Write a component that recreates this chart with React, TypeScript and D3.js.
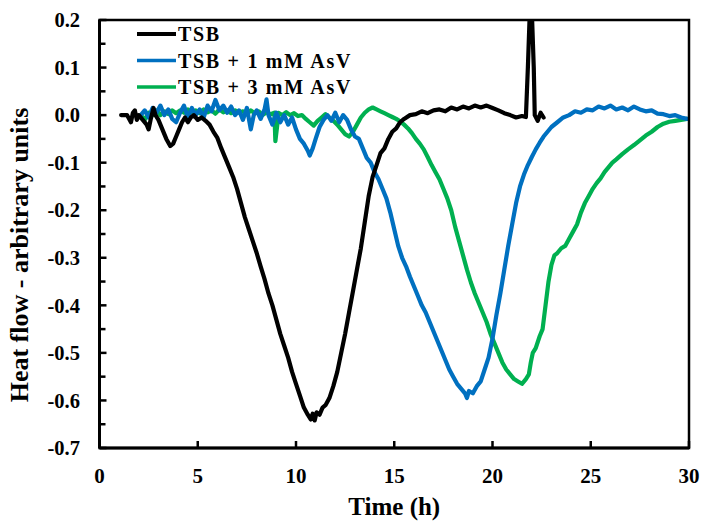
import React from "react";
import * as d3 from "d3";

const xTicks = [0, 5, 10, 15, 20, 25, 30];
const yTicks = [0.2, 0.1, 0.0, -0.1, -0.2, -0.3, -0.4, -0.5, -0.6, -0.7];
const yMinorTicks = [0.15, 0.05, -0.05, -0.15, -0.25, -0.35, -0.45, -0.55, -0.65];

const seriesNames = ["TSB", "TSB + 1 mM AsV", "TSB + 3 mM AsV"];
const seriesColors = ["#000000", "#0070C0", "#00B050"];

const tsb: [number, number][] = [
  [1.1, 0.0], [1.4, 0.0], [1.6, -0.015], [1.7, 0.005], [1.8, 0.01], [1.9, -0.01], [2.0, 0.0], [2.2, -0.01],
  [2.4, -0.02], [2.5, -0.03], [2.6, -0.01], [2.75, 0.015], [2.85, 0.0], [3.0, -0.01], [3.2, -0.03], [3.4, -0.05],
  [3.6, -0.065], [3.75, -0.06], [3.9, -0.045], [4.05, -0.03], [4.2, -0.015], [4.35, -0.005], [4.5, -0.015],
  [4.65, -0.005], [4.8, 0.0], [5.0, -0.01], [5.2, -0.005], [5.4, -0.012], [5.6, -0.02], [5.8, -0.035], [6.0, -0.048],
  [6.2, -0.07], [6.4, -0.09], [6.6, -0.11], [6.8, -0.13], [7.0, -0.155], [7.2, -0.185], [7.4, -0.215], [7.6, -0.24],
  [7.8, -0.265], [8.0, -0.29], [8.2, -0.318], [8.4, -0.345], [8.6, -0.375], [8.8, -0.4], [9.0, -0.43], [9.2, -0.46],
  [9.4, -0.485], [9.6, -0.51], [9.8, -0.54], [10.0, -0.565], [10.2, -0.59], [10.4, -0.615], [10.6, -0.63],
  [10.75, -0.64], [10.85, -0.628], [10.95, -0.642], [11.05, -0.625], [11.2, -0.63], [11.35, -0.615], [11.5, -0.61],
  [11.7, -0.595], [11.9, -0.57], [12.1, -0.54], [12.3, -0.5], [12.5, -0.46], [12.7, -0.415], [12.9, -0.37],
  [13.1, -0.325], [13.3, -0.28], [13.5, -0.225], [13.7, -0.17], [13.9, -0.13], [14.1, -0.105], [14.3, -0.08],
  [14.5, -0.07], [14.7, -0.05], [14.9, -0.035], [15.1, -0.028], [15.3, -0.015], [15.5, -0.008], [15.8, 0.0],
  [16.1, 0.002], [16.4, 0.008], [16.7, 0.004], [17.0, 0.01], [17.3, 0.012], [17.6, 0.008], [17.9, 0.016],
  [18.2, 0.012], [18.5, 0.018], [18.8, 0.014], [19.1, 0.02], [19.4, 0.016], [19.7, 0.02], [20.0, 0.015],
  [20.3, 0.01], [20.6, 0.004], [20.9, 0.0], [21.2, -0.005], [21.5, -0.002], [21.7, -0.004], [21.8, 0.1],
  [21.9, 0.22], [22.0, 0.22], [22.1, 0.1], [22.15, 0.0], [22.3, -0.012], [22.45, 0.005], [22.6, -0.005],
];

const tsb1mM: [number, number][] = [
  [2.1, 0.0], [2.3, 0.01], [2.5, -0.005], [2.7, 0.015], [2.9, 0.005], [3.1, 0.02], [3.3, 0.0], [3.5, 0.012],
  [3.7, -0.008], [3.9, -0.015], [4.1, 0.005], [4.3, 0.02], [4.5, -0.005], [4.7, 0.015], [4.9, 0.0], [5.1, 0.012],
  [5.3, -0.005], [5.5, 0.02], [5.7, 0.008], [5.9, 0.032], [6.1, 0.01], [6.3, 0.02], [6.5, 0.005], [6.7, 0.018],
  [6.9, 0.0], [7.1, 0.01], [7.3, -0.01], [7.5, 0.015], [7.7, -0.03], [7.85, 0.0], [8.0, 0.01], [8.2, -0.008],
  [8.4, 0.012], [8.5, 0.033], [8.6, 0.0], [8.8, -0.02], [9.0, 0.005], [9.2, -0.015], [9.4, 0.0], [9.6, -0.02],
  [9.8, -0.005], [10.0, -0.03], [10.2, -0.05], [10.4, -0.06], [10.6, -0.075], [10.7, -0.085], [10.85, -0.07],
  [11.0, -0.05], [11.2, -0.025], [11.4, -0.01], [11.6, 0.0], [11.8, -0.012], [12.0, 0.005], [12.2, -0.015],
  [12.4, 0.0], [12.6, -0.01], [12.8, -0.03], [13.0, -0.045], [13.2, -0.05], [13.4, -0.07], [13.6, -0.09],
  [13.8, -0.1], [14.0, -0.12], [14.2, -0.135], [14.4, -0.155], [14.6, -0.175], [14.8, -0.205], [15.0, -0.24],
  [15.2, -0.275], [15.4, -0.3], [15.6, -0.318], [15.8, -0.34], [16.0, -0.36], [16.2, -0.38], [16.4, -0.4],
  [16.6, -0.415], [16.8, -0.435], [17.0, -0.455], [17.2, -0.475], [17.4, -0.495], [17.6, -0.515], [17.8, -0.535],
  [18.0, -0.55], [18.2, -0.565], [18.4, -0.575], [18.6, -0.585], [18.7, -0.595], [18.8, -0.58], [19.0, -0.585],
  [19.2, -0.57], [19.4, -0.56], [19.6, -0.535], [19.8, -0.51], [20.0, -0.47], [20.2, -0.42], [20.4, -0.375],
  [20.6, -0.325], [20.8, -0.275], [21.0, -0.23], [21.2, -0.185], [21.4, -0.15], [21.6, -0.125], [21.8, -0.105],
  [22.0, -0.088], [22.2, -0.072], [22.4, -0.058], [22.6, -0.045], [22.8, -0.035], [23.0, -0.025], [23.3, -0.015],
  [23.6, -0.005], [23.9, 0.0], [24.2, 0.008], [24.5, 0.005], [24.8, 0.012], [25.1, 0.01], [25.4, 0.018],
  [25.7, 0.014], [26.0, 0.02], [26.3, 0.012], [26.6, 0.016], [26.9, 0.01], [27.2, 0.018], [27.5, 0.012],
  [27.8, 0.008], [28.1, 0.01], [28.4, 0.003], [28.7, 0.002], [29.0, -0.002], [29.3, 0.0], [29.6, -0.005],
  [29.9, -0.008],
];

const tsb3mM: [number, number][] = [
  [2.1, 0.0], [2.3, -0.01], [2.5, 0.005], [2.7, 0.0], [2.9, 0.01], [3.1, 0.0], [3.3, 0.008], [3.5, 0.002],
  [3.7, 0.01], [3.9, 0.004], [4.1, 0.01], [4.3, 0.005], [4.5, 0.012], [4.7, 0.006], [4.9, 0.01], [5.1, 0.004],
  [5.3, 0.012], [5.5, 0.006], [5.7, 0.01], [5.9, 0.003], [6.1, 0.012], [6.3, 0.006], [6.5, 0.01], [6.7, 0.004],
  [6.9, 0.01], [7.1, 0.005], [7.3, 0.008], [7.5, 0.002], [7.7, 0.01], [7.9, 0.004], [8.1, 0.008], [8.3, 0.0],
  [8.5, 0.006], [8.7, 0.002], [8.9, 0.005], [8.95, -0.055], [9.05, -0.02], [9.1, 0.005], [9.3, 0.0], [9.5, 0.006],
  [9.7, 0.0], [9.9, 0.004], [10.1, -0.002], [10.3, 0.0], [10.5, -0.008], [10.7, -0.015], [10.9, -0.022],
  [11.1, -0.012], [11.3, -0.005], [11.5, 0.002], [11.7, -0.005], [11.9, -0.012], [12.1, -0.02], [12.3, -0.03],
  [12.5, -0.04], [12.7, -0.045], [12.9, -0.035], [13.1, -0.02], [13.3, -0.005], [13.5, 0.005], [13.7, 0.012],
  [13.9, 0.016], [14.1, 0.012], [14.3, 0.008], [14.5, 0.004], [14.7, 0.0], [14.9, -0.004], [15.1, -0.008],
  [15.3, -0.013], [15.5, -0.02], [15.7, -0.028], [15.9, -0.038], [16.1, -0.05], [16.3, -0.06], [16.5, -0.072],
  [16.7, -0.088], [16.9, -0.105], [17.1, -0.12], [17.3, -0.135], [17.5, -0.155], [17.7, -0.175], [17.9, -0.2],
  [18.1, -0.235], [18.3, -0.265], [18.5, -0.295], [18.7, -0.325], [18.9, -0.352], [19.1, -0.375], [19.3, -0.395],
  [19.5, -0.415], [19.7, -0.435], [19.9, -0.46], [20.1, -0.48], [20.3, -0.5], [20.5, -0.52], [20.7, -0.535],
  [20.9, -0.545], [21.1, -0.555], [21.3, -0.56], [21.5, -0.565], [21.7, -0.555], [21.85, -0.545], [21.95, -0.52],
  [22.05, -0.5], [22.2, -0.49], [22.4, -0.465], [22.55, -0.45], [22.7, -0.4], [22.85, -0.35], [23.0, -0.315],
  [23.15, -0.295], [23.3, -0.29], [23.5, -0.28], [23.7, -0.275], [23.9, -0.26], [24.1, -0.245], [24.3, -0.23],
  [24.5, -0.205], [24.7, -0.185], [24.9, -0.17], [25.1, -0.155], [25.3, -0.143], [25.5, -0.133], [25.7, -0.12],
  [25.9, -0.11], [26.1, -0.1], [26.3, -0.093], [26.6, -0.082], [26.9, -0.072], [27.2, -0.063], [27.5, -0.053],
  [27.8, -0.043], [28.1, -0.035], [28.4, -0.025], [28.7, -0.018], [29.0, -0.014], [29.3, -0.012], [29.6, -0.01],
  [29.9, -0.008],
];

const allSeries = [tsb, tsb1mM, tsb3mM];

const W = 702;
const H = 524;
const left = 99.5;
const right = 689;
const top = 20;
const bottom = 448;

const FONT = "'Liberation Serif', 'Times New Roman', serif";

export default function App() {
  const x = d3.scaleLinear().domain([0, 30]).range([left, right]);
  const y = d3.scaleLinear().domain([-0.7, 0.2]).range([bottom, top]);
  const line = d3
    .line<[number, number]>()
    .x((d) => x(d[0]))
    .y((d) => y(d[1]))
    .curve(d3.curveLinear);

  const order = [2, 1, 0];

  return (
    <svg
      width={W}
      height={H}
      style={{ position: "absolute", left: 0, top: 0, background: "#fff" }}
      fontFamily={FONT}
      fontWeight="bold"
    >
      <defs>
        <clipPath id="plotclip">
          <rect x={left} y={top} width={right - left} height={bottom - top} />
        </clipPath>
      </defs>
      <rect x={0} y={0} width={W} height={H} fill="#fff" />

      <g clipPath="url(#plotclip)">
        {order.map((i) => (
          <path
            key={i}
            d={line(allSeries[i]) || ""}
            fill="none"
            stroke={seriesColors[i]}
            strokeWidth={4.2}
            strokeLinejoin="round"
            strokeLinecap="round"
          />
        ))}
      </g>

      {/* frame */}
      <rect x={left} y={top} width={right - left} height={bottom - top} fill="none" stroke="#000" strokeWidth={2.5} />
      <line x1={left} x2={left} y1={top} y2={bottom} stroke="#000" strokeWidth={3} />
      <line x1={left} x2={right} y1={bottom} y2={bottom} stroke="#000" strokeWidth={3} />

      {/* y ticks */}
      {yTicks.map((t) => (
        <g key={"y" + t}>
          <line x1={left} x2={left + 7} y1={y(t)} y2={y(t)} stroke="#000" strokeWidth={2.5} />
          <text x={80} y={y(t)} dy="0.35em" textAnchor="end" fontSize={20.5}>
            {t.toFixed(1)}
          </text>
        </g>
      ))}
      {yMinorTicks.map((t) => (
        <line key={"ym" + t} x1={left} x2={left + 6} y1={y(t)} y2={y(t)} stroke="#000" strokeWidth={2.5} />
      ))}

      {/* x ticks */}
      {xTicks.map((t) => (
        <g key={"x" + t}>
          <line x1={x(t)} x2={x(t)} y1={bottom} y2={bottom - 7} stroke="#000" strokeWidth={2.5} />
          <text x={x(t)} y={483} textAnchor="middle" fontSize={21}>
            {t}
          </text>
        </g>
      ))}

      {/* axis titles */}
      <text x={(left + right) / 2} y={515} textAnchor="middle" fontSize={25}>
        Time (h)
      </text>
      <text transform="translate(28,255) rotate(-90)" textAnchor="middle" fontSize={26}>
        Heat flow - arbitrary units
      </text>

      {/* legend */}
      {seriesNames.map((name, i) => {
        const ly = 34 + i * 26.5;
        return (
          <g key={name}>
            <line x1={137} x2={176} y1={ly} y2={ly} stroke={seriesColors[i]} strokeWidth={i === 0 ? 4 : 3.5} />
            <text x={178} y={ly + 7} fontSize={20} letterSpacing={1.7}>
              {name}
            </text>
          </g>
        );
      })}
    </svg>
  );
}
